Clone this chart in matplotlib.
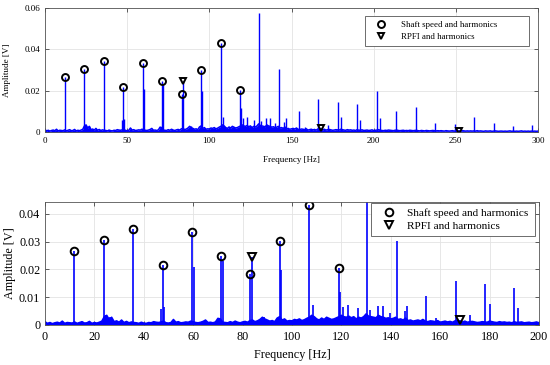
import numpy as np
import matplotlib
matplotlib.use('Agg')
import matplotlib.pyplot as plt
from matplotlib.lines import Line2D
from matplotlib.ticker import FuncFormatter

plt.rcParams['font.family'] = ['Liberation Serif', 'DejaVu Serif']

# noise floor, 1 Hz steps from 0 to 300 Hz, in units of 1e-4 V
noise = [
    12, 6, 9, 5, 8, 10, 7, 14, 6, 9, 8, 7, 11, 6, 9, 12, 7, 8, 13, 6,
    9, 7, 10, 14, 30, 35, 20, 28, 12, 15, 10, 18, 9, 13, 8, 11, 9, 8, 6, 10,
    7, 6, 9, 8, 12, 10, 9, 11, 14, 8, 7, 9, 20, 10, 12, 8, 9, 11, 10, 14,
    12, 9, 8, 10, 13, 18, 9, 10, 8, 11, 24, 22, 10, 9, 8, 12, 9, 14, 10, 8,
    11, 13, 10, 16, 18, 12, 15, 20, 28, 22, 18, 14, 16, 12, 25, 30, 18, 22, 14, 16,
    15, 20, 18, 22, 16, 19, 24, 28, 35, 30, 22, 18, 25, 20, 28, 24, 20, 22, 26, 30,
    35, 30, 28, 32, 26, 30, 22, 28, 25, 30, 40, 32, 30, 28, 26, 35, 30, 28, 24, 26,
    22, 24, 28, 20, 22, 18, 25, 16, 18, 14, 16, 18, 15, 20, 14, 12, 15, 14, 12, 16,
    10, 12, 14, 11, 13, 10, 15, 18, 12, 11, 14, 10, 12, 13, 11, 9, 10, 12, 11, 10,
    14, 12, 10, 9, 12, 10, 11, 9, 10, 8, 12, 9, 10, 11, 8, 9, 10, 8, 9, 11,
    8, 9, 10, 12, 9, 8, 7, 9, 8, 10, 9, 8, 7, 9, 10, 8, 7, 8, 9, 7,
    8, 7, 9, 8, 7, 8, 9, 7, 6, 8, 7, 6, 8, 7, 6, 7, 8, 7, 6, 7,
    6, 7, 6, 5, 7, 6, 5, 6, 7, 5, 6, 5, 6, 5, 7, 6, 5, 6, 5, 6,
    5, 6, 5, 7, 5, 6, 5, 4, 6, 5, 5, 6, 4, 5, 6, 5, 4, 5, 5, 4,
    5, 4, 5, 6, 4, 5, 4, 5, 4, 5, 6, 4, 5, 4, 5, 4, 5, 4, 5, 4, 5,
]
noise_f = np.arange(len(noise))
noise_a = np.array(noise) * 1e-4

# shaft speed and harmonics
shaft_f = [11.9, 23.8, 35.7, 47.6, 59.5, 71.4, 83.2, 95.1, 107.0, 118.9]
shaft_a = [0.0265, 0.0306, 0.0345, 0.0217, 0.0334, 0.0247, 0.0184, 0.0301, 0.0432, 0.0206]

# RPFI and harmonics
rpfi_f = [84.0, 168.0, 252.0]
rpfi_a = [0.0246, 0.0018, 0.0006]

# other spectral lines
other_f = [24.5, 26.5, 47.0, 48.3, 60.2, 71.9, 88.8, 95.7, 108.5, 119.5, 120.7, 122.8,
           126.9, 130.5, 131.6, 134.7, 136.9, 139.7, 142.4, 145.7, 146.5, 154.4, 158.2,
           166.2, 172.0, 178.0, 180.2, 190.0, 191.6, 201.8, 204.0, 213.6, 225.6,
           237.6, 249.4, 261.2, 273.0, 284.8, 296.6]
other_a = [0.0035, 0.0030, 0.0058, 0.0065, 0.0208, 0.0232, 0.0030, 0.0198, 0.0072, 0.0118,
           0.0066, 0.0072, 0.0060, 0.0578, 0.0055, 0.0070, 0.0070, 0.0045, 0.0304, 0.0050,
           0.0068, 0.0104, 0.0025, 0.0160, 0.0035, 0.0146, 0.0075, 0.0134, 0.0060, 0.0198,
           0.0070, 0.0100, 0.0123, 0.0043, 0.0040, 0.0073, 0.0045, 0.0031, 0.0033]

line_f = shaft_f + rpfi_f + other_f
line_a = shaft_a + rpfi_a + other_a

fig = plt.figure(figsize=(5.5, 3.65), dpi=100)
ax1 = fig.add_axes([0.0818, 0.638, 0.8964, 0.340])
ax2 = fig.add_axes([0.0818, 0.1096, 0.8982, 0.337])


def draw(ax, fs, lfs, ms, lw, box, spacing, hlen, hpad, bpad):
    ax.fill_between(noise_f, 0, noise_a, color='blue', lw=0)
    ax.plot(noise_f, noise_a, color='blue', lw=1.1)
    ax.vlines(line_f, 0, line_a, color='blue', lw=lw)
    ax.plot(shaft_f, shaft_a, 'o', mfc='none', mec='black', ms=ms, mew=1.4)
    ax.plot(rpfi_f, rpfi_a, 'v', mfc='none', mec='black', ms=ms, mew=1.4)
    ax.grid(True, color='#e3e3e3', lw=0.6)
    ax.set_axisbelow(True)
    ax.tick_params(direction='in', top=True, right=True, labelsize=fs,
                   length=3, width=0.6, color='#444444')
    for s in ax.spines.values():
        s.set_color('#555555')
        s.set_linewidth(0.6)
    ax.set_xlabel('Frequency [Hz]', fontsize=fs)
    ax.set_ylabel('Amplitude [V]', fontsize=fs)
    ax.yaxis.set_major_formatter(FuncFormatter(lambda v, p: '0' if v == 0 else '%g' % v))
    handles = [Line2D([], [], ls='none', marker='o', mfc='none', mec='black', ms=ms, mew=1.4),
               Line2D([], [], ls='none', marker='v', mfc='none', mec='black', ms=ms, mew=1.4)]
    leg = ax.legend(handles, ['Shaft speed and harmonics', 'RPFI and harmonics'],
                    loc='upper left', bbox_to_anchor=box, mode='expand', borderaxespad=0,
                    fontsize=lfs, fancybox=False, framealpha=1, edgecolor='#555555',
                    labelspacing=spacing, handlelength=hlen, handletextpad=hpad,
                    borderpad=bpad)
    leg.get_frame().set_linewidth(0.6)


draw(ax1, 6.5, 6.4, 5, 1.0, (0.649, 0.935, 0.333, 0.0), 0.5, 2.6, 1.0, 0.5)
ax1.set_xlim(0, 300)
ax1.set_ylim(0, 0.06)
ax1.set_xticks(np.arange(0, 301, 50))
ax1.set_yticks([0, 0.02, 0.04, 0.06])
ax1.xaxis.labelpad = 8
ax1.yaxis.set_label_coords(-0.068, 0.5)

draw(ax2, 8.7, 8.1, 5.5, 1.2, (0.66, 0.994, 0.332, 0.0), 0.3, 2.3, 0.45, 0.45)
ax2.set_xlim(0, 200)
ax2.set_ylim(0, 0.0443)
ax2.set_xticks(np.arange(0, 201, 20))
ax2.set_yticks([0, 0.01, 0.02, 0.03, 0.04])
ax2.tick_params(axis='x', pad=4.5)
ax2.xaxis.labelpad = 4
ax2.yaxis.set_label_coords(-0.059, 0.5)

fig.savefig('out.png', dpi=100)
